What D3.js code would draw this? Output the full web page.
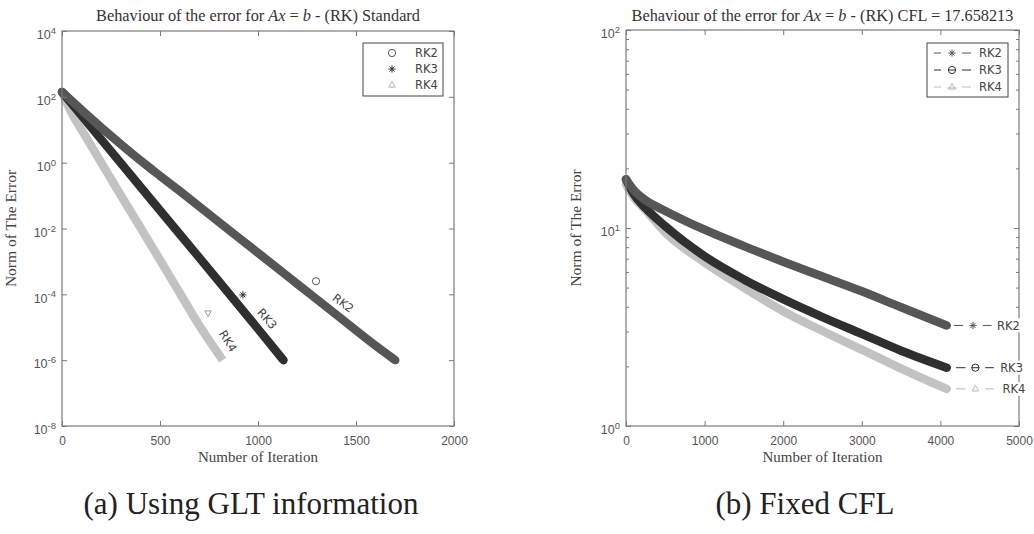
<!DOCTYPE html>
<html>
<head>
<meta charset="utf-8">
<script src="https://cdn.jsdelivr.net/npm/d3@7"></script>
<style>
  html, body { margin: 0; padding: 0; background: #fff; }
  svg { display: block; }
</style>
</head>
<body>
<svg id="fig" width="1034" height="534"></svg>
<script>
// ---- Panel (a): error vs iteration, step chosen from GLT information ----
const glt_rk2_iter = [0, 100, 200, 300, 400, 500, 600, 800, 1000, 1200, 1400, 1600, 1700];
const glt_rk2_err  = [141, 39.8, 11.7, 3.63, 1.17, 0.398, 0.138, 0.0158, 1.82e-3, 2.09e-4, 2.4e-5, 2.75e-6, 1.0e-6];
const glt_rk3_iter = [0, 100, 200, 400, 600, 800, 1000, 1130];
const glt_rk3_err  = [141, 26.9, 5.1, 0.186, 6.8e-3, 2.5e-4, 8.9e-6, 1.0e-6];
const glt_rk4_iter = [0, 50, 100, 200, 300, 400, 500, 600, 700, 820];
const glt_rk4_err  = [141, 31.6, 10.0, 1.0, 0.102, 0.0107, 1.1e-3, 1.12e-4, 1.15e-5, 1.0e-6];

// ---- Panel (b): error vs iteration, fixed CFL ----
const cfl_iter    = [0, 100, 250, 500, 1000, 1500, 2000, 2500, 3000, 3500, 4080];
const cfl_rk2_err = [17.6, 15.5, 13.8, 12.2, 9.8, 8.1, 6.76, 5.69, 4.79, 3.98, 3.22];
const cfl_rk3_err = [17.6, 14.8, 12.6, 10.2, 7.2, 5.5, 4.37, 3.55, 2.92, 2.40, 1.97];
const cfl_rk4_err = [16.6, 14.3, 12.3, 9.5, 6.7, 5.0, 3.8, 3.02, 2.43, 1.95, 1.54];

// ---- tick labels ----
const glt_xticks = [0, 500, 1000, 1500, 2000];
const glt_yexps  = [4, 2, 0, -2, -4, -6, -8];
const cfl_xticks = [0, 1000, 2000, 3000, 4000, 5000];
const cfl_yexps  = [2, 1, 0];

const seriesNames = ["RK2", "RK3", "RK4"];
const titles = ["Behaviour of the error for ", " = ", " - (RK) Standard", " - (RK) CFL = 17.658213"];
const captions = ["(a) Using GLT information", "(b) Fixed CFL"];

const colRK2 = "#565656", colRK3 = "#2f2f2f", colRK4 = "#c2c2c2";
const axisCol = "#7a7a7a", tickTxt = "#555";

const svg = d3.select("#fig");

// marker paths
function starPath(r) {
  const d = r * 0.7071;
  return `M${-r},0L${r},0M0,${-r}L0,${r}M${-d},${-d}L${d},${d}M${-d},${d}L${d},${-d}`;
}
function triPath(r, down) {
  const s = down ? -1 : 1;
  return `M0,${-r * s}L${r * 0.9},${r * 0.6 * s}L${-r * 0.9},${r * 0.6 * s}Z`;
}
function marker(g, kind, x, y, col, r, down) {
  if (kind === "o") {
    g.append("circle").attr("cx", x).attr("cy", y).attr("r", r)
      .attr("fill", "none").attr("stroke", col).attr("stroke-width", 1);
  } else if (kind === "*") {
    g.append("path").attr("transform", `translate(${x},${y})`).attr("d", starPath(r))
      .attr("fill", "none").attr("stroke", col).attr("stroke-width", 1);
  } else {
    g.append("path").attr("transform", `translate(${x},${y})`).attr("d", triPath(r, down))
      .attr("fill", "none").attr("stroke", col).attr("stroke-width", 1);
  }
}

function powLabel(sel, exp) {
  sel.text(null);
  sel.append("tspan").text("10");
  sel.append("tspan").attr("dy", "-0.55em").attr("font-size", "9.5px").text(exp);
}

function drawPanel(cfg) {
  const g = svg.append("g");
  const { x, y } = cfg;
  const [x0, x1] = x.range();
  const [yb, yt] = y.range();

  // curves
  const line = d3.line().x(d => x(d[0])).y(d => y(d[1])).curve(d3.curveMonotoneX);
  cfg.series.forEach(s => {
    g.append("path")
      .datum(s.iter.map((it, i) => [it, s.err[i]]))
      .attr("d", line)
      .attr("fill", "none")
      .attr("stroke", s.color)
      .attr("stroke-width", 8.5)
      .attr("stroke-linejoin", "round")
      .attr("stroke-linecap", s.cap || "round");
  });

  // axes (ticks pointing inward on all four sides)
  const ax = g.append("g").attr("font-family", "DejaVu Sans, sans-serif");
  const bottom = ax.append("g").attr("transform", `translate(0,${yb})`)
    .call(d3.axisBottom(x).tickValues(cfg.xticks).tickSizeInner(-5).tickSizeOuter(0).tickPadding(8).tickFormat(d3.format("d")));
  ax.append("g").attr("transform", `translate(0,${yt})`)
    .call(d3.axisTop(x).tickValues(cfg.xticks).tickSizeInner(-5).tickSizeOuter(0).tickFormat(""));
  const left = ax.append("g").attr("transform", `translate(${x0},0)`)
    .call(d3.axisLeft(y).tickValues(cfg.ymajor).tickSizeInner(-5).tickSizeOuter(0).tickPadding(6));
  ax.append("g").attr("transform", `translate(${x1},0)`)
    .call(d3.axisRight(y).tickValues(cfg.ymajor).tickSizeInner(-5).tickSizeOuter(0).tickFormat(""));
  if (cfg.yminor) {
    ax.append("g").attr("transform", `translate(${x0},0)`)
      .call(d3.axisLeft(y).tickValues(cfg.yminor).tickSizeInner(-3).tickSizeOuter(0).tickFormat(""));
    ax.append("g").attr("transform", `translate(${x1},0)`)
      .call(d3.axisRight(y).tickValues(cfg.yminor).tickSizeInner(-3).tickSizeOuter(0).tickFormat(""));
  }
  ax.selectAll(".domain").remove();
  ax.selectAll("line").attr("stroke", axisCol);
  ax.selectAll("text").attr("fill", tickTxt).attr("font-size", "12px");
  bottom.selectAll("text").attr("dy", "0.9em");
  left.selectAll(".tick text").each(function (d) {
    powLabel(d3.select(this), Math.round(Math.log10(d)));
  }).attr("dy", "0.62em").attr("font-size", "12.5px");

  // frame
  g.append("rect").attr("x", x0).attr("y", yt).attr("width", x1 - x0).attr("height", yb - yt)
    .attr("fill", "none").attr("stroke", axisCol).attr("stroke-width", 1.2);

  // title
  const cx = (x0 + x1) / 2;
  const t = g.append("text").attr("x", cx).attr("y", 21).attr("text-anchor", "middle")
    .attr("font-family", "Liberation Serif, serif").attr("font-size", "16.3px").attr("fill", "#333");
  t.append("tspan").text(titles[0]);
  t.append("tspan").attr("font-style", "italic").text("Ax");
  t.append("tspan").text(titles[1]);
  t.append("tspan").attr("font-style", "italic").text("b");
  t.append("tspan").text(cfg.titleTail);

  // axis labels
  g.append("text").attr("x", cx).attr("y", 462).attr("text-anchor", "middle")
    .attr("font-family", "Liberation Serif, serif").attr("font-size", "15px").attr("fill", "#444")
    .text("Number of Iteration");
  g.append("text").attr("transform", `translate(${cfg.ylabX},${(yb + yt) / 2}) rotate(-90)`)
    .attr("text-anchor", "middle").attr("font-family", "Liberation Serif, serif")
    .attr("font-size", "15.5px").attr("fill", "#444").text("Norm of The Error");

  // caption
  svg.append("text").attr("x", cfg.capX).attr("y", 514).attr("text-anchor", "middle")
    .attr("font-family", "Liberation Serif, serif").attr("font-size", "31px").attr("fill", "#222")
    .text(cfg.caption);
  return g;
}

// ---------- panel (a) ----------
const xA = d3.scaleLinear().domain([0, 2000]).range([62, 454]);
const yA = d3.scaleLog().domain([1e-8, 1e4]).range([426, 31]);
const gA = drawPanel({
  x: xA, y: yA, xticks: glt_xticks,
  ymajor: glt_yexps.map(e => Math.pow(10, e)),
  titleTail: titles[2], ylabX: 16, capX: 251, caption: captions[0],
  series: [
    { iter: glt_rk4_iter, err: glt_rk4_err, color: colRK4, cap: "butt" },
    { iter: glt_rk3_iter, err: glt_rk3_err, color: colRK3 },
    { iter: glt_rk2_iter, err: glt_rk2_err, color: colRK2 }
  ]
});

// in-plot annotations along each curve
const annA = [
  { it: 1296, err: 2.5e-4, kind: "o", col: colRK2, name: seriesNames[0], tit: 1434, terr: 5.4e-5, ang: 37 },
  { it: 923,  err: 9.6e-5, kind: "*", col: colRK3, name: seriesNames[1], tit: 1046, terr: 1.8e-5, ang: 49 },
  { it: 745,  err: 2.7e-5, kind: "v", col: colRK4, name: seriesNames[2], tit: 847,  terr: 3.8e-6, ang: 58 }
];
annA.forEach(a => {
  marker(gA, a.kind, xA(a.it), yA(a.err), a.kind === "v" ? "#9a9a9a" : a.col, 3.6, true);
  gA.append("text")
    .attr("transform", `translate(${xA(a.tit)},${yA(a.terr)}) rotate(${a.ang})`)
    .attr("text-anchor", "middle").attr("dominant-baseline", "central")
    .attr("font-family", "DejaVu Sans, sans-serif").attr("font-size", "11.5px").attr("fill", "#444")
    .text(a.name);
});

// legend (a)
const legA = gA.append("g");
legA.append("rect").attr("x", 363).attr("y", 43).attr("width", 80).attr("height", 53)
  .attr("fill", "#fff").attr("stroke", "#444").attr("stroke-width", 1);
[["o", colRK2], ["*", colRK3], ["^", colRK4]].forEach((m, i) => {
  const yy = 53 + i * 16;
  marker(legA, m[0], 392, yy, m[0] === "^" ? "#b5b5b5" : m[1], 3.6, false);
  legA.append("text").attr("x", 415).attr("y", yy).attr("dy", "0.36em")
    .attr("font-family", "DejaVu Sans, sans-serif").attr("font-size", "11.5px").attr("fill", "#444")
    .text(seriesNames[i]);
});

// ---------- panel (b) ----------
const xB = d3.scaleLinear().domain([0, 5000]).range([626, 1019]);
const yB = d3.scaleLog().domain([1, 100]).range([426, 30]);
const minorB = [];
[1, 10].forEach(dec => { for (let k = 2; k <= 9; k++) minorB.push(dec * k); });
const gB = drawPanel({
  x: xB, y: yB, xticks: cfl_xticks,
  ymajor: cfl_yexps.map(e => Math.pow(10, e)), yminor: minorB,
  titleTail: titles[3], ylabX: 581, capX: 805, caption: captions[1],
  series: [
    { iter: cfl_iter, err: cfl_rk4_err, color: colRK4 },
    { iter: cfl_iter, err: cfl_rk3_err, color: colRK3 },
    { iter: cfl_iter, err: cfl_rk2_err, color: colRK2 }
  ]
});

// end-of-curve labels: dash, marker, dash, name
const endB = [
  { err: cfl_rk2_err[cfl_rk2_err.length - 1], kind: "*", col: colRK2, name: seriesNames[0], tx: 4720 },
  { err: cfl_rk3_err[cfl_rk3_err.length - 1], kind: "o", col: colRK3, name: seriesNames[1], tx: 4760 },
  { err: cfl_rk4_err[cfl_rk4_err.length - 1], kind: "^", col: colRK4, name: seriesNames[2], tx: 4790 }
];
endB.forEach(e => {
  const yy = yB(e.err);
  const c = e.kind === "^" ? "#b8b8b8" : e.col;
  const off = e.kind === "*" ? 0 : 30;
  gB.append("line").attr("x1", xB(4170 + off)).attr("x2", xB(4290 + off)).attr("y1", yy).attr("y2", yy)
    .attr("stroke", c).attr("stroke-width", 1);
  gB.append("line").attr("x1", xB(4540 + off)).attr("x2", xB(4650 + off)).attr("y1", yy).attr("y2", yy)
    .attr("stroke", c).attr("stroke-width", 1);
  marker(gB, e.kind, xB(4415 + off), yy, c, 3.6, false);
  if (e.kind === "o") {
    gB.append("line").attr("x1", xB(4415 + off) - 4).attr("x2", xB(4415 + off) + 4)
      .attr("y1", yy).attr("y2", yy).attr("stroke", c);
  }
  const tx = xB(e.tx);
  gB.append("rect").attr("x", tx - 1).attr("y", yy - 7).attr("width", 26).attr("height", 14).attr("fill", "#fff");
  gB.append("text").attr("x", tx).attr("y", yy).attr("dy", "0.36em")
    .attr("font-family", "DejaVu Sans, sans-serif").attr("font-size", "11.5px").attr("fill", "#444")
    .text(e.name);
});

// legend (b)
const legB = gB.append("g");
legB.append("rect").attr("x", 927).attr("y", 43).attr("width", 81).attr("height", 54)
  .attr("fill", "#fff").attr("stroke", "#444").attr("stroke-width", 1);
[["*", colRK2], ["o", colRK3], ["^", "#bdbdbd"]].forEach((m, i) => {
  const yy = 53 + i * 17;
  legB.append("line").attr("x1", 934).attr("x2", 941).attr("y1", yy).attr("y2", yy).attr("stroke", m[1]);
  legB.append("line").attr("x1", 962).attr("x2", 971).attr("y1", yy).attr("y2", yy).attr("stroke", m[1]);
  marker(legB, m[0], 952, yy, m[1], 3.6, false);
  if (m[0] === "o") legB.append("line").attr("x1", 948).attr("x2", 956).attr("y1", yy).attr("y2", yy).attr("stroke", m[1]);
  if (m[0] === "^") legB.append("line").attr("x1", 947).attr("x2", 957).attr("y1", yy + 1).attr("y2", yy + 1).attr("stroke", m[1]);
  legB.append("text").attr("x", 979).attr("y", yy).attr("dy", "0.36em")
    .attr("font-family", "DejaVu Sans, sans-serif").attr("font-size", "11.5px").attr("fill", "#444")
    .text(seriesNames[i]);
});
</script>
</body>
</html>
